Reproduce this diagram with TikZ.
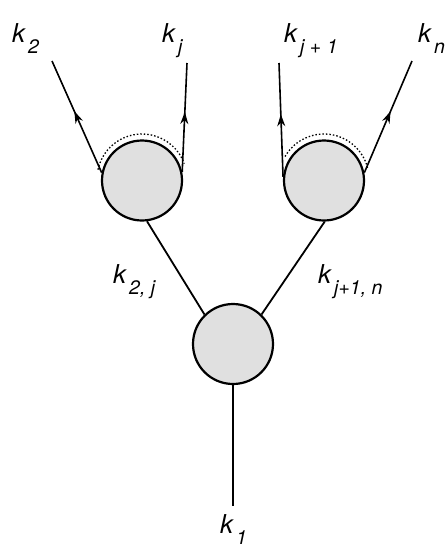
\documentclass[tikz,border=0pt]{standalone}
\usepackage{fontspec}
\setmainfont{TeX Gyre Heros}
\usetikzlibrary{decorations.markings,arrows.meta}
\newcommand{\klab}[2]{\fontsize{26}{26}\selectfont\itshape k\kern3pt\raisebox{-11pt}{\fontsize{19.5}{20}\selectfont\itshape #2}}
\tikzset{
  blob/.style={circle, draw, line width=2.2pt, fill=black!12, minimum size=80pt, inner sep=0pt},
  leg/.style={line width=1.8pt},
  arrleg/.style={line width=1.6pt, postaction={decorate}, decoration={markings, mark=at position 0.55 with {\arrow{Stealth[length=12pt,width=8pt]}}}},
  dots/.style={dash pattern=on 1.5pt off 2pt, line width=1.3pt},
  lab/.style={inner sep=0pt, anchor=base west}
}
\begin{document}
\begin{tikzpicture}[x=1pt,y=-1pt]
\useasboundingbox (0,0) rectangle (447,550);
\node[blob] (b) at (233,344) {};
\node[blob] (l) at (142,180.5) {};
\node[blob] (r) at (324,180.5) {};
\coordinate (e1) at (233,506);
\coordinate (o1) at (52,61);
\coordinate (o2) at (187,63);
\coordinate (o3) at (279,63);
\coordinate (o4) at (412,61);
\draw[leg] (b.south) -- (e1);
\draw[leg] (b.134) -- (l.-83);
\draw[leg] (b.46) -- (r.-89);
\draw[arrleg] (l.169) -- (o1);
\draw[arrleg] (l.12) -- (o2);
\draw[arrleg] (r.175) -- (o3);
\draw[arrleg] (r.11) -- (o4);
\draw[dots] (142,179) ++(-168:45) arc[start angle=-168, end angle=-20, radius=45];
\draw[dots] (324,179) ++(-150:45) arc[start angle=-150, end angle=-13, radius=45];
\node[lab] (k2) at (12,42) {\klab{k}{2}};
\node[lab] (kj) at (162,42) {\klab{k}{j}};
\node[lab] (kj1) at (284,42) {\klab{k}{j + 1}};
\node[lab] (kn) at (418,42) {\klab{k}{n}};
\node[lab] (k2j) at (113,283) {\klab{k}{2, j}};
\node[lab] (kjn) at (318,283) {\klab{k}{j+1, n}};
\node[lab] (k1) at (220,533) {\klab{k}{1}};
\end{tikzpicture}
\end{document}
